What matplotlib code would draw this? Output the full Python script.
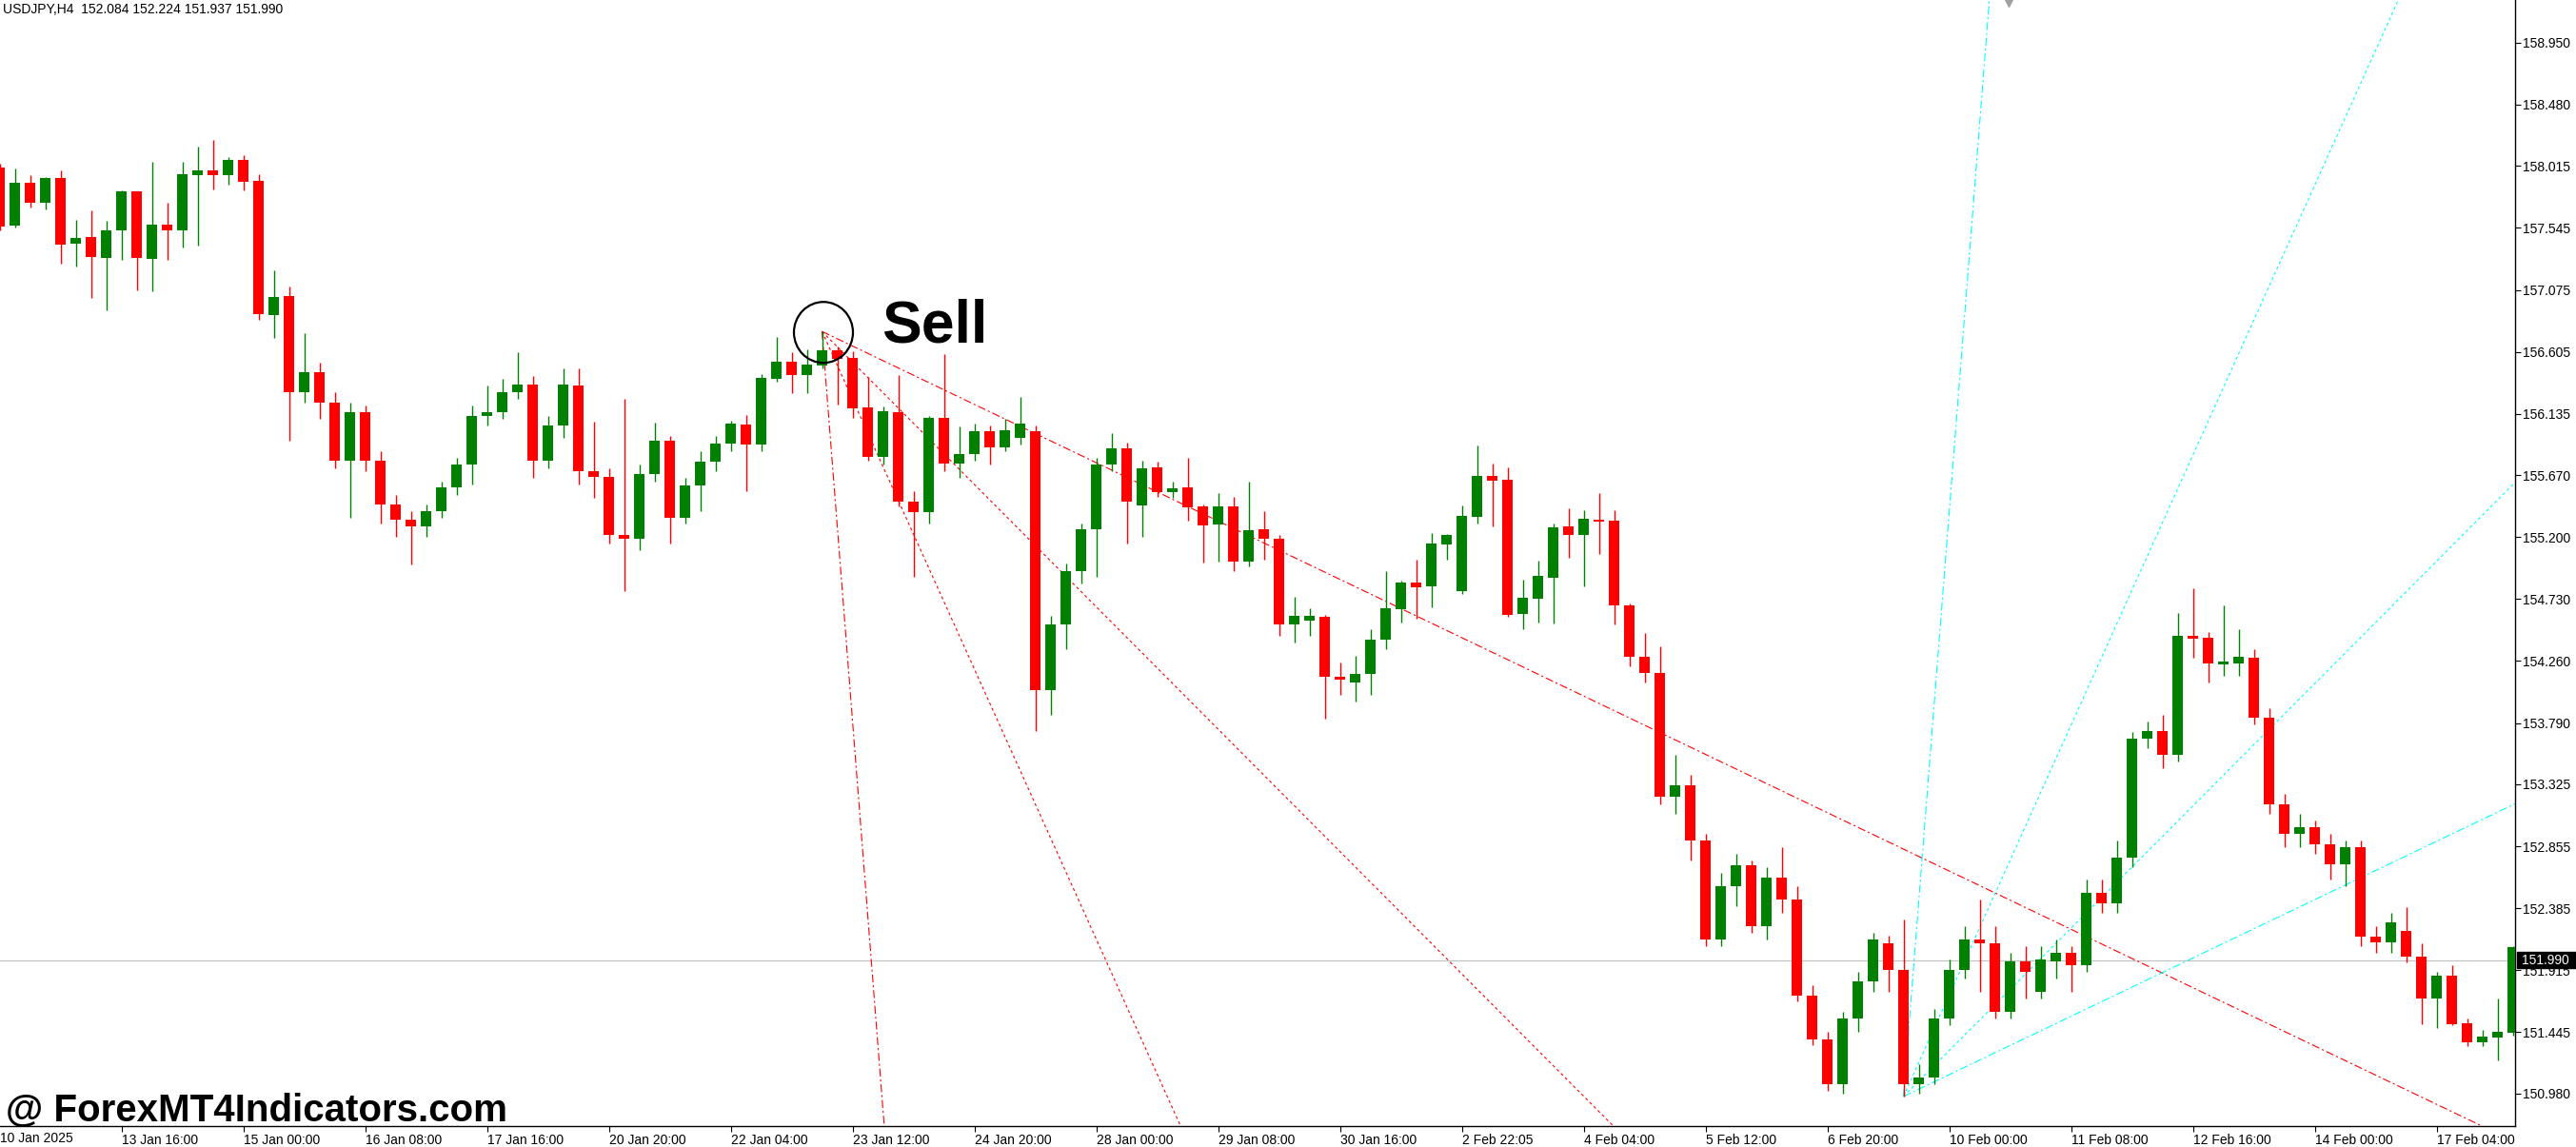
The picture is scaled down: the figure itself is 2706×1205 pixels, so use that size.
import matplotlib.pyplot as plt
import matplotlib.transforms as mtransforms
from matplotlib.patches import Ellipse, Rectangle

plt.rcParams['font.family'] = ['Liberation Sans', 'DejaVu Sans']
plt.rcParams['lines.scale_dashes'] = False

# H4 candles
opens = [158.004, 157.566, 157.888, 157.739, 157.924, 157.429, 157.477, 157.320, 157.527, 157.823,
         157.313, 157.571, 157.530, 157.948, 157.982, 157.948, 158.062, 157.903, 156.887, 157.029,
         156.30, 156.45, 156.22, 155.78, 156.15, 155.78, 155.45, 155.33, 155.28, 155.40,
         155.58, 155.75, 156.12, 156.15, 156.30, 156.36, 155.78, 156.05, 156.35, 155.70,
         155.66, 155.22, 155.19, 155.68, 155.93, 155.35, 155.59, 155.77, 155.91, 156.054,
         155.90, 156.40, 156.53, 156.43, 156.504, 156.617, 156.559, 156.184, 155.81, 156.148,
         155.47, 155.39, 156.105, 155.76, 155.83, 156.00, 155.88, 155.95, 156.00, 154.04,
         154.54, 154.94, 155.26, 155.75, 155.87, 155.443, 155.729, 155.544, 155.577, 155.433,
         155.298, 155.433, 155.016, 155.260, 155.190, 154.54, 154.57, 154.595, 154.14, 154.10,
         154.16, 154.42, 154.653, 154.855, 154.826, 155.144, 154.790, 155.354, 155.664, 155.635,
         154.617, 154.733, 154.890, 155.281, 155.216, 155.332, 155.325, 154.682, 154.292, 154.17,
         153.23, 153.32, 152.90, 152.15, 152.55, 152.71, 152.25, 152.62, 152.45, 151.72,
         151.39, 151.05, 151.55, 151.83, 152.12, 151.92, 151.05, 151.10, 151.55, 151.92,
         152.15, 152.12, 151.60, 151.98, 151.75, 151.98, 152.05, 151.95, 152.50, 152.42,
         152.77, 153.67, 153.73, 153.55, 154.451, 154.436, 154.235, 154.242, 154.285, 153.83,
         153.17, 152.95, 153.00, 152.87, 152.72, 152.85, 152.17, 152.13, 152.21, 152.015,
         151.70, 151.873, 151.51, 151.368, 151.401, 151.438]
highs = [158.03, 157.997, 157.946, 157.932, 157.982, 157.607, 157.679, 157.600, 157.830, 157.823,
         158.047, 157.737, 158.047, 158.163, 158.213, 158.083, 158.098, 157.953, 157.224, 157.101,
         156.748, 156.52, 156.30, 156.22, 156.20, 155.85, 155.52, 155.40, 155.45, 155.62,
         155.80, 156.20, 156.35, 156.40, 156.60, 156.42, 156.12, 156.48, 156.48, 156.076,
         155.72, 156.249, 155.75, 156.068, 155.97, 155.65, 155.85, 155.97, 156.083, 156.126,
         156.437, 156.718, 156.603, 156.624, 156.759, 156.646, 156.61, 156.413, 156.191, 156.43,
         155.55, 156.119, 156.588, 156.042, 156.06, 156.05, 156.10, 156.263, 156.05, 154.60,
         155.00, 155.30, 155.80, 155.99, 155.92, 155.78, 155.772, 155.621, 155.801, 155.447,
         155.534, 155.505, 155.621, 155.397, 155.216, 154.747, 154.66, 154.61, 154.25, 154.30,
         154.50, 154.944, 154.870, 155.031, 155.231, 155.223, 155.440, 155.895, 155.758, 155.729,
         154.877, 155.020, 155.303, 155.418, 155.404, 155.534, 155.404, 154.70, 154.473, 154.372,
         153.55, 153.40, 152.95, 152.65, 152.80, 152.75, 152.70, 152.85, 152.55, 151.80,
         151.45, 151.60, 151.90, 152.20, 152.18, 152.30, 151.20, 151.62, 152.00, 152.25,
         152.45, 152.25, 152.05, 152.10, 152.10, 152.15, 152.10, 152.60, 152.60, 152.90,
         153.72, 153.80, 153.85, 154.624, 154.812, 154.48, 154.682, 154.502, 154.35, 153.90,
         153.25, 153.10, 153.05, 152.95, 152.90, 152.90, 152.25, 152.35, 152.391, 152.121,
         151.903, 151.951, 151.546, 151.46, 151.703, 152.10]
lows = [157.53, 157.551, 157.703, 157.689, 157.277, 157.255, 157.017, 156.923, 157.306, 157.075,
        157.068, 157.306, 157.400, 157.414, 157.840, 157.876, 157.833, 156.851, 156.711, 155.93,
        156.22, 156.10, 155.72, 155.35, 155.70, 155.30, 155.20, 154.99, 155.20, 155.35,
        155.52, 155.60, 156.05, 156.10, 156.25, 155.65, 155.72, 155.95, 155.60, 155.50,
        155.15, 154.79, 155.10, 155.62, 155.15, 155.30, 155.40, 155.70, 155.85, 155.55,
        155.85, 156.381, 156.292, 156.292, 156.48, 156.208, 156.107, 155.78, 155.75, 155.43,
        154.90, 155.30, 155.70, 155.65, 155.78, 155.75, 155.85, 155.90, 153.73, 153.85,
        154.35, 154.85, 154.90, 155.70, 155.15, 155.20, 155.507, 155.496, 155.327, 155.009,
        155.016, 154.944, 154.980, 155.031, 154.45, 154.40, 154.45, 153.82, 154.00, 153.95,
        154.00, 154.35, 154.55, 154.58, 154.667, 155.031, 154.768, 155.30, 155.281, 154.595,
        154.50, 154.55, 154.545, 155.043, 154.826, 155.072, 154.538, 154.22, 154.10, 153.17,
        153.10, 152.75, 152.10, 152.10, 152.40, 152.20, 152.15, 152.35, 151.68, 151.35,
        151.00, 150.98, 151.45, 151.75, 151.75, 150.957, 150.98, 151.05, 151.50, 151.85,
        151.75, 151.55, 151.55, 151.70, 151.70, 151.85, 151.75, 151.90, 152.35, 152.35,
        152.70, 153.60, 153.45, 153.50, 154.287, 154.10, 154.15, 154.15, 153.78, 153.10,
        152.85, 152.85, 152.80, 152.60, 152.55, 152.10, 152.05, 152.05, 151.973, 151.505,
        151.477, 151.499, 151.34, 151.34, 151.234, 151.42]
closes = [157.559, 157.888, 157.739, 157.924, 157.421, 157.470, 157.328, 157.527, 157.823, 157.320,
          157.571, 157.530, 157.953, 157.982, 157.948, 158.062, 157.898, 156.892, 157.022, 156.30,
          156.45, 156.22, 155.78, 156.15, 155.78, 155.45, 155.33, 155.28, 155.40, 155.58,
          155.75, 156.12, 156.15, 156.30, 156.36, 155.78, 156.05, 156.36, 155.70, 155.66,
          155.22, 155.19, 155.68, 155.93, 155.35, 155.59, 155.77, 155.91, 156.06, 155.90,
          156.408, 156.53, 156.43, 156.509, 156.617, 156.555, 156.174, 155.81, 156.155, 155.47,
          155.39, 156.105, 155.76, 155.83, 156.003, 155.88, 156.01, 156.06, 154.04, 154.54,
          154.94, 155.26, 155.75, 155.87, 155.47, 155.722, 155.544, 155.570, 155.428, 155.291,
          155.433, 155.016, 155.252, 155.190, 154.54, 154.60, 154.603, 154.14, 154.12, 154.16,
          154.42, 154.66, 154.855, 154.819, 155.151, 155.216, 155.361, 155.664, 155.628, 154.610,
          154.740, 154.906, 155.274, 155.216, 155.339, 155.317, 154.682, 154.292, 154.17, 153.23,
          153.32, 152.90, 152.15, 152.55, 152.71, 152.25, 152.62, 152.45, 151.72, 151.39,
          151.05, 151.55, 151.83, 152.15, 151.92, 151.05, 151.10, 151.55, 151.92, 152.15,
          152.12, 151.60, 151.98, 151.90, 152.00, 152.05, 151.95, 152.50, 152.42, 152.77,
          153.67, 153.73, 153.55, 154.451, 154.430, 154.242, 154.256, 154.292, 153.83, 153.17,
          152.95, 153.00, 152.87, 152.72, 152.85, 152.17, 152.13, 152.28, 152.015, 151.70,
          151.873, 151.505, 151.368, 151.41, 151.449, 152.09]

x_labels = ["13 Jan 16:00", "15 Jan 00:00", "16 Jan 08:00", "17 Jan 16:00", "20 Jan 20:00",
            "22 Jan 04:00", "23 Jan 12:00", "24 Jan 20:00", "28 Jan 00:00", "29 Jan 08:00",
            "30 Jan 16:00", "2 Feb 22:05", "4 Feb 04:00", "5 Feb 12:00", "6 Feb 20:00",
            "10 Feb 00:00", "11 Feb 08:00", "12 Feb 16:00", "14 Feb 00:00", "17 Feb 04:00"]
first_label = "10 Jan 2025"
y_ticks = [158.950, 158.480, 158.015, 157.545, 157.075, 156.605, 156.135, 155.670, 155.200,
           154.730, 154.260, 153.790, 153.325, 152.855, 152.385, 151.915, 151.445, 150.980]
price_now = 151.990
header = "USDJPY,H4  152.084 152.224 151.937 151.990"

# gann fans: apex (bar, price) and slopes in price per bar
red_apex = (54, 156.76)
cyan_apex = (125, 150.957)
fan_slopes = [1.475, 0.256, 0.116, 0.0553]

W, H = 2706, 1205
fig = plt.figure(figsize=(W / 100, H / 100), dpi=100)
ax = fig.add_axes([0, 22 / H, 2642 / W, 1183 / H])

green = "#008000"
red = "#FF0000"
cyan = "#00FFFF"

n = len(opens)
bars = list(range(n))
cols = [green if closes[i] >= opens[i] else red for i in bars]
bottoms = [min(opens[i], closes[i]) for i in bars]
heights = [max(abs(closes[i] - opens[i]), 0.012) for i in bars]

ax.vlines(bars, lows, highs, colors=cols, linewidth=1.0, zorder=3)
ax.bar(bars, heights, bottom=bottoms, width=0.68, color=cols, linewidth=0, zorder=4)

# fan lines
dot = (2.2, 2.2)
dashdot = (6, 2.2, 1.5, 2.2)
styles = [dashdot, dot, dot, dashdot]
for s, d in zip(fan_slopes, styles):
    x0, p0 = red_apex
    ax.plot([x0, x0 + 200], [p0, p0 - s * 200], color=red, lw=0.8, dashes=d, zorder=2)
    x0, p0 = cyan_apex
    ax.plot([x0, x0 + 200], [p0, p0 + s * 200], color=cyan, lw=0.8, dashes=d, zorder=2)

ax.axhline(price_now, color="#C0C0C0", lw=0.8, zorder=1)

# sell marker
ax.add_patch(Ellipse((865.5 / 16, 156.76 - 1 / 138.5), 62 / 16, 64 / 138.5,
                     fill=False, ec="black", lw=1.6, zorder=6))
ax.text(926.5 / 16, 156.675, "Sell", fontsize=45, fontweight="bold", va="baseline", ha="left", zorder=6)

ax.plot([131.9], [159.25], marker="v", ms=6, color="#A0A0A0", clip_on=False)

ax.set_xlim(0.5 / 16, 2642.5 / 16)
ax.set_ylim(150.733, 159.274)

ax.set_xticks(list(range(8, 8 * len(x_labels) + 1, 8)))
ax.set_xticklabels(x_labels, fontsize=10)
for lbl in ax.get_xticklabels():
    lbl.set_ha("left")
ax.tick_params(axis="x", length=4, width=0.8, pad=2, direction="out")

ax.yaxis.tick_right()
ax.set_yticks(y_ticks)
ax.set_yticklabels(["%.3f" % v for v in y_ticks], fontsize=10)
ax.tick_params(axis="y", length=4, width=0.8, pad=2, direction="out")

for side in ["left", "top"]:
    ax.spines[side].set_visible(False)
for side in ["right", "bottom"]:
    ax.spines[side].set_linewidth(1.0)

fig.text(0, (H - 1196) / H, first_label, fontsize=10, va="center", ha="left")

# current price box
trans = mtransforms.blended_transform_factory(fig.transFigure, ax.transData)
ax.add_patch(Rectangle((2644 / W, price_now - 8.5 / 138.5), 1 - 2644 / W, 17 / 138.5,
                       transform=trans, color="black", clip_on=False, zorder=10))
ax.text(2649 / W, price_now, "%.3f" % price_now, transform=trans, color="white",
        fontsize=10, va="center", ha="left", clip_on=False, zorder=11)

fig.text(3 / W, 1 - 3 / H, header, fontsize=10, va="top", ha="left")
fig.text(6 / W, (H - 1178) / H, "@ ForexMT4Indicators.com", fontsize=29,
         fontweight="bold", va="baseline", ha="left")

fig.savefig("out.png", dpi=100)
